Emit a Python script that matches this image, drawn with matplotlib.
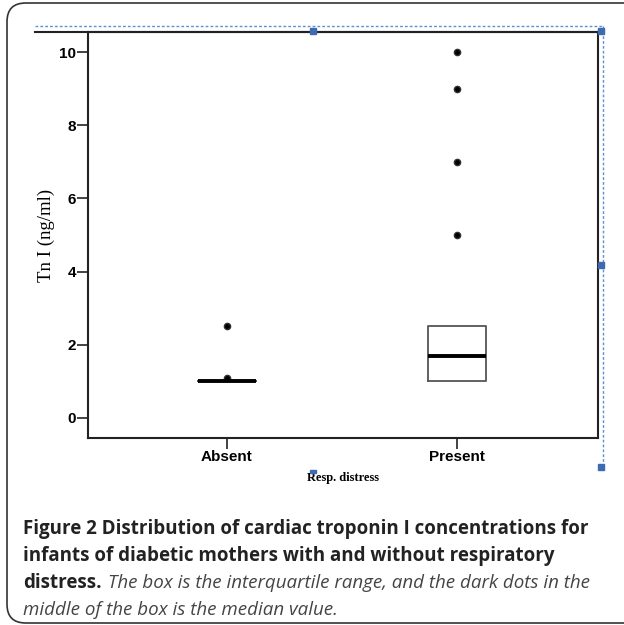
import matplotlib.pyplot as plt
from matplotlib.patches import FancyBboxPatch, Rectangle
from matplotlib.lines import Line2D

# box statistics (ng/ml)
groups = ["Absent", "Present"]
q1 = [1.0, 1.0]
median = [1.0, 1.7]
q3 = [1.0, 2.5]
whisk_lo = [1.0, 1.0]
whisk_hi = [1.0, 2.5]
outliers = [[1.1, 2.5], [5.0, 7.0, 9.0, 10.0]]
yticks = [0, 2, 4, 6, 8, 10]

W, H = 624, 625
fig = plt.figure(figsize=(W / 100, H / 100), dpi=100)

# rounded frame round the whole figure
fig.patches.append(FancyBboxPatch((7 / W, 2 / H), 640 / W, 620 / H,
                                  boxstyle="round,pad=0,rounding_size=0.03",
                                  transform=fig.transFigure, fill=False,
                                  edgecolor="#333333", linewidth=1.2))

ax = fig.add_axes([88 / W, 1 - 438 / H, (598 - 88) / W, (438 - 32) / H])

stats = []
for i, name in enumerate(groups):
    stats.append(dict(label=name, q1=q1[i], med=median[i], q3=q3[i],
                      whislo=whisk_lo[i], whishi=whisk_hi[i],
                      fliers=outliers[i]))

ax.bxp(stats, positions=[1, 2], widths=0.25, showcaps=False,
       boxprops=dict(color="#555555", linewidth=1.3),
       whiskerprops=dict(color="#999999", linewidth=1.0),
       medianprops=dict(color="black", linewidth=2.8),
       flierprops=dict(marker="o", markersize=4.5, markerfacecolor="black",
                       markeredgecolor="#333333"))

ax.set_xlim(0.396, 2.613)
ax.set_ylim(-0.55, 10.55)
ax.set_yticks(yticks)
ax.set_yticklabels([str(v) for v in yticks], fontfamily="Liberation Sans",
                   fontweight="bold", fontsize=11)
ax.set_xticks([1, 2])
ax.set_xticklabels(groups, fontfamily="Liberation Sans", fontweight="bold",
                   fontsize=11)
ax.tick_params(axis="both", length=8, width=1.2, color="#222222", pad=0.5)
for s in ax.spines.values():
    s.set_linewidth(1.5)
    s.set_color("#222222")

ax.set_ylabel("Tn I (ng/ml)", fontfamily="Liberation Serif", fontsize=13.5,
              labelpad=3)
ax.set_xlabel("Resp. distress", fontfamily="Liberation Serif", fontsize=9,
              fontweight="bold", labelpad=6)

# top rule extending beyond the plot frame
fig.add_artist(Line2D([35 / W, 598 / W], [1 - 32 / H, 1 - 32 / H],
                      color="#222222", linewidth=1.5))

# blue selection outline left over in the figure
sel = "#5b8fd6"
fig.add_artist(Line2D([35 / W, 603 / W], [1 - 26 / H, 1 - 26 / H],
                      color=sel, linewidth=1, linestyle=(0, (2, 1.5))))
fig.add_artist(Line2D([603 / W, 603 / W], [1 - 26 / H, 1 - 467 / H],
                      color=sel, linewidth=1, linestyle=(0, (2, 1.5))))
for (px, py) in [(313, 31), (601, 31), (601, 265), (601, 467), (313, 470)]:
    fig.patches.append(Rectangle(((px - 3) / W, 1 - (py + 3) / H), 6 / W,
                                 (6 if py < 468 else 3) / H,
                                 transform=fig.transFigure,
                                 color="#3d6ab0", zorder=5))

# caption
cap = dict(fontfamily="Open Sans", fontsize=13.5,
           transform=fig.transFigure, va="baseline")
x0 = 23 / W
fig.text(x0, 1 - 534 / H,
         "Figure 2 Distribution of cardiac troponin I concentrations for",
         fontweight="bold", color="#222222", **cap)
fig.text(x0, 1 - 561 / H,
         "infants of diabetic mothers with and without respiratory",
         fontweight="bold", color="#222222", **cap)
t = fig.text(x0, 1 - 588 / H, "distress.", fontweight="bold",
             color="#222222", **cap)
fig.canvas.draw()
bb = t.get_window_extent()
fig.text(bb.x1 / fig.bbox.width + 6 / W, 1 - 588 / H,
         "The box is the interquartile range, and the dark dots in the",
         fontstyle="italic", color="#444444", **cap)
fig.text(x0, 1 - 615 / H, "middle of the box is the median value.",
         fontstyle="italic", color="#444444", **cap)

fig.savefig("out.png", dpi=100)
